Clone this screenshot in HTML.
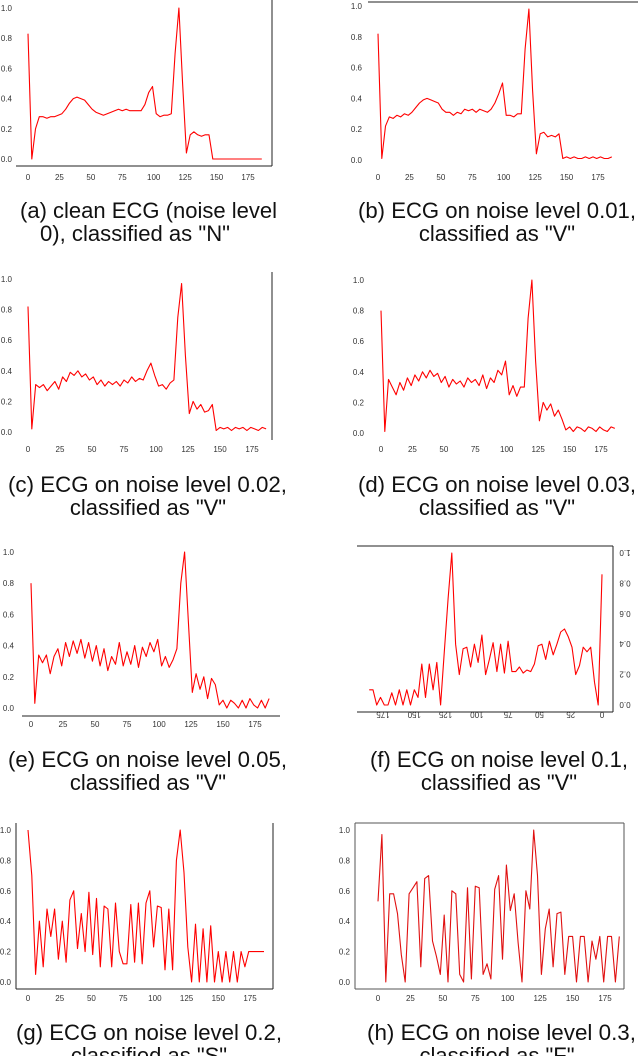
<!DOCTYPE html>
<html><head><meta charset="utf-8"><style>
html,body{margin:0;padding:0;background:#fff;width:638px;height:1056px;overflow:hidden}
svg{display:block}
.tk{font-family:"Liberation Sans",sans-serif;font-size:8px;fill:#333}
.cap{font-family:"Liberation Sans",sans-serif;font-size:22px;fill:#111}
</style></head><body>
<svg id="fig" width="638" height="1056" viewBox="0 0 638 1056" xmlns="http://www.w3.org/2000/svg">
<g>
<text class="cap" x="20" y="218" textLength="257" lengthAdjust="spacingAndGlyphs">(a) clean ECG (noise level</text>
<text class="cap" x="40" y="241" textLength="190" lengthAdjust="spacingAndGlyphs">0), classified as "N"</text>
<text class="cap" x="358" y="218" textLength="278" lengthAdjust="spacingAndGlyphs">(b) ECG on noise level 0.01,</text>
<text class="cap" x="497" y="241" text-anchor="middle">classified as "V"</text>
<text class="cap" x="8" y="492" textLength="279" lengthAdjust="spacingAndGlyphs">(c) ECG on noise level 0.02,</text>
<text class="cap" x="148" y="515" text-anchor="middle">classified as "V"</text>
<text class="cap" x="358" y="492" textLength="278" lengthAdjust="spacingAndGlyphs">(d) ECG on noise level 0.03,</text>
<text class="cap" x="497" y="515" text-anchor="middle">classified as "V"</text>
<text class="cap" x="8" y="767" textLength="279" lengthAdjust="spacingAndGlyphs">(e) ECG on noise level 0.05,</text>
<text class="cap" x="148" y="790" text-anchor="middle">classified as "V"</text>
<text class="cap" x="370" y="767" textLength="258" lengthAdjust="spacingAndGlyphs">(f) ECG on noise level 0.1,</text>
<text class="cap" x="499" y="790" text-anchor="middle">classified as "V"</text>
<text class="cap" x="16" y="1040" textLength="266" lengthAdjust="spacingAndGlyphs">(g) ECG on noise level 0.2,</text>
<text class="cap" x="149" y="1063" text-anchor="middle">classified as "S"</text>
<text class="cap" x="367" y="1040" textLength="269" lengthAdjust="spacingAndGlyphs">(h) ECG on noise level 0.3,</text>
<text class="cap" x="497" y="1063" text-anchor="middle">classified as "F"</text>
</g>
</svg>
<script>
const xTicks = [0,25,50,75,100,125,150,175];
const yTicks = [0,0.2,0.4,0.6,0.8,1.0];
const yTickLabels = ["0.0","0.2","0.4","0.6","0.8","1.0"];
const sampleStep = 3;
const ecgClean = [0.83,0.0,0.20,0.28,0.28,0.27,0.28,0.28,0.29,0.30,0.33,0.37,0.40,0.41,0.40,0.39,0.36,0.33,0.31,0.30,0.29,0.30,0.31,0.32,0.33,0.32,0.33,0.32,0.32,0.32,0.32,0.36,0.44,0.48,0.30,0.28,0.29,0.29,0.30,0.70,1.0,0.50,0.04,0.16,0.18,0.16,0.15,0.16,0.16,0,0,0,0,0,0,0,0,0,0,0,0,0,0];
const ecgNoise001 = [0.82,0.01,0.22,0.28,0.27,0.29,0.28,0.30,0.29,0.31,0.34,0.37,0.39,0.40,0.39,0.38,0.37,0.33,0.31,0.31,0.29,0.31,0.30,0.33,0.32,0.33,0.31,0.33,0.32,0.31,0.33,0.37,0.43,0.50,0.29,0.29,0.28,0.30,0.30,0.72,0.98,0.45,0.04,0.17,0.18,0.15,0.16,0.15,0.17,0.01,0.02,0.01,0.02,0.01,0.01,0.02,0.01,0.02,0.01,0.02,0.01,0.01,0.02];
const ecgNoise002 = [0.82,0.02,0.31,0.29,0.31,0.27,0.30,0.33,0.28,0.36,0.33,0.39,0.37,0.40,0.36,0.38,0.34,0.36,0.31,0.34,0.30,0.33,0.31,0.33,0.30,0.34,0.32,0.36,0.33,0.35,0.34,0.40,0.45,0.37,0.30,0.31,0.28,0.32,0.34,0.75,0.97,0.50,0.12,0.20,0.15,0.18,0.13,0.14,0.18,0.01,0.03,0.02,0.03,0.01,0.03,0.02,0.03,0.01,0.03,0.02,0.01,0.03,0.02];
const ecgNoise003 = [0.80,0.01,0.35,0.30,0.25,0.33,0.28,0.36,0.31,0.38,0.34,0.40,0.36,0.41,0.37,0.39,0.33,0.37,0.30,0.35,0.32,0.34,0.30,0.36,0.33,0.35,0.31,0.38,0.29,0.36,0.33,0.41,0.38,0.47,0.25,0.31,0.24,0.30,0.30,0.75,1.0,0.47,0.08,0.20,0.15,0.19,0.11,0.15,0.09,0.02,0.04,0.01,0.04,0.03,0.01,0.04,0.03,0.01,0.04,0.02,0.01,0.04,0.03];
const ecgNoise005 = [0.80,0.03,0.34,0.29,0.34,0.22,0.33,0.38,0.27,0.42,0.33,0.43,0.35,0.44,0.32,0.42,0.30,0.40,0.27,0.38,0.24,0.33,0.28,0.42,0.27,0.36,0.28,0.40,0.26,0.39,0.33,0.42,0.36,0.44,0.27,0.33,0.26,0.31,0.38,0.80,1.0,0.55,0.10,0.22,0.12,0.20,0.06,0.19,0.15,0.02,0.05,0.0,0.05,0.03,0.0,0.05,0.0,0.06,0.02,0.0,0.05,0.0,0.06];
const ecgNoise01 = [0.86,0.0,0.15,0.38,0.35,0.38,0.26,0.20,0.38,0.45,0.50,0.48,0.40,0.33,0.42,0.30,0.40,0.39,0.27,0.22,0.23,0.21,0.25,0.22,0.22,0.42,0.21,0.40,0.22,0.41,0.30,0.20,0.46,0.28,0.40,0.25,0.38,0.37,0.20,0.40,1.0,0.70,0.35,0.0,0.28,0.10,0.27,0.05,0.27,0.05,0.10,0.0,0.10,0.0,0.10,0.0,0.08,0.0,0.0,0.05,0.0,0.10,0.10];
const ecgNoise02 = [1.0,0.7,0.05,0.4,0.1,0.48,0.3,0.48,0.15,0.4,0.13,0.54,0.6,0.22,0.45,0.2,0.59,0.18,0.55,0.1,0.5,0.48,0.1,0.52,0.2,0.12,0.12,0.51,0.13,0.52,0.12,0.52,0.6,0.23,0.5,0.49,0.08,0.48,0.08,0.8,1.0,0.72,0.23,0.0,0.38,0.0,0.35,0.0,0.37,0.0,0.2,0.0,0.2,0.0,0.2,0.0,0.2,0.1,0.2,0.2,0.2,0.2,0.2];
const ecgNoise03 = [0.53,0.97,0.0,0.58,0.58,0.45,0.18,0.0,0.58,0.62,0.66,0.1,0.68,0.7,0.27,0.17,0.05,0.44,0.0,0.6,0.58,0.05,0.0,0.62,0.02,0.63,0.62,0.05,0.12,0.02,0.61,0.7,0.15,0.77,0.47,0.58,0.26,0.0,0.6,0.48,1.0,0.7,0.05,0.35,0.48,0.1,0.45,0.46,0.05,0.3,0.3,0.0,0.3,0.3,0.0,0.27,0.15,0.3,0.0,0.3,0.3,0.0,0.3];

const NS='http://www.w3.org/2000/svg';
const svg=document.getElementById('fig');
function mk(tag,attrs,parent){const e=document.createElementNS(NS,tag);for(const k in attrs)e.setAttribute(k,attrs[k]);parent.appendChild(e);return e;}

function panel(id,data,L){
  const g=mk('g',{},svg);
  
  
  const sx=v=>L.x0+(L.x175-L.x0)*v/175;
  const sy=v=>L.yb+(L.yt-L.yb)*v;
  (L.spines||[]).forEach(s=>{
    const ln=mk('line',{x1:s[0],y1:s[1],x2:s[2],y2:s[3],stroke:L.spineColor||'#222','stroke-width':1},g);
    
    
  });
  xTicks.forEach(t=>{
    const x=sx(t);
    const tx=mk('text',{class:'tk',x:x,y:L.xl,'text-anchor':'middle'},g);
    tx.textContent=String(t);
    if(L.flip) tx.setAttribute('transform','rotate(180 '+x+' '+(L.xl-3)+')');
    
    
  });
  yTicks.forEach((t,i)=>{
    const y=sy(t)+3;
    const tx=mk('text',{class:'tk',x:L.yl,y:y,'text-anchor':L.flip?'middle':'end'},g);
    tx.textContent=yTickLabels[i];
    if(L.flip) tx.setAttribute('transform','rotate(180 '+L.yl+' '+(y-3)+')');
    
    
  });
  const pts=data.map((v,i)=>sx(i*sampleStep).toFixed(1)+','+sy(v).toFixed(1)).join(' ');
  const pl=mk('polyline',{points:pts,fill:'none',stroke:L.color||'#f00','stroke-width':1.1,'stroke-linejoin':'round'},g);
  
  
}
panel('a',ecgClean,{x0:28,x175:248,yb:159,yt:8,xl:180,yl:12,spines:[[272,0,272,166],[16,166,272,166]]});
panel('b',ecgNoise001,{x0:378,x175:598,yb:160,yt:6,xl:180,yl:362,spines:[[368,2,638,2]]});
panel('c',ecgNoise002,{x0:28,x175:252,yb:432,yt:279,xl:452,yl:12,spines:[[272,272,272,440]]});
panel('d',ecgNoise003,{x0:381,x175:601,yb:433,yt:280,xl:452,yl:364,spines:[]});
panel('e',ecgNoise005,{x0:31,x175:255,yb:708,yt:552,xl:727,yl:14,spines:[[22,716,280,716]]});
panel('f',ecgNoise01,{x0:602,x175:383,yb:705,yt:553,xl:718,yl:625,flip:true,spines:[[357,546,613,546],[613,546,613,712],[357,712,613,712]]});
panel('g',ecgNoise02,{x0:28,x175:250,yb:982,yt:830,xl:1001,yl:11,spines:[[16,823,16,989],[16,989,273,989],[273,823,273,989]]});
panel('h',ecgNoise03,{x0:378,x175:605,yb:982,yt:830,xl:1001,yl:350,color:'#e01010',spineColor:'#555',spines:[[355,823,624,823],[624,823,624,989],[355,989,624,989],[355,823,355,989]]});
</script>
</body></html>
